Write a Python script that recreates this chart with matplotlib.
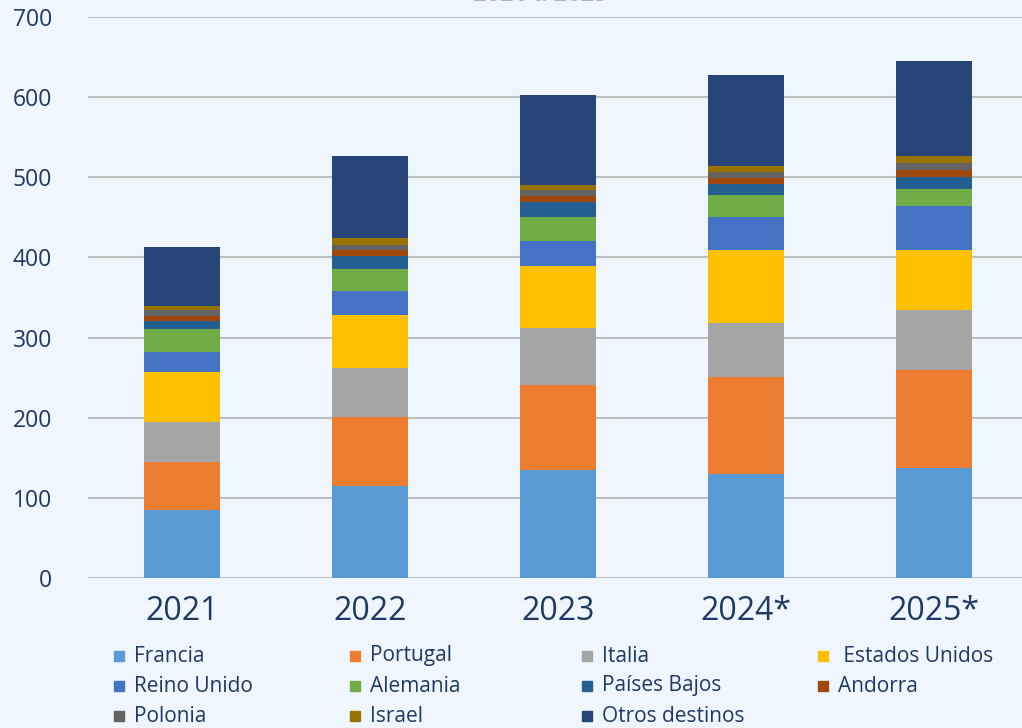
import matplotlib
matplotlib.use('Agg')
import matplotlib.pyplot as plt
from matplotlib.patches import Rectangle
import numpy as np

# ---------------------------------------------------------------------------
# Datos
# ---------------------------------------------------------------------------
anios = ["2021", "2022", "2023", "2024*", "2025*"]

francia = [85, 115, 135, 130, 137]
portugal = [60, 86, 106, 121, 122]
italia = [50, 61, 71, 67, 76]
estados_unidos = [62, 66, 77, 91, 74]
reino_unido = [25, 30, 32, 42, 55]
alemania = [29, 28, 30, 27, 22]
paises_bajos = [10, 16, 18, 13, 14]
andorra = [6, 7, 8, 8, 9]
polonia = [8, 7, 7, 8, 9]
israel = [5, 8, 6, 7, 8]
otros = [73, 102, 113, 114, 119]

series = [
    ("Francia", francia, '#5B9BD5'),
    ("Portugal", portugal, '#ED7D31'),
    ("Italia", italia, '#A5A5A5'),
    (" Estados Unidos", estados_unidos, '#FFC000'),
    ("Reino Unido", reino_unido, '#4472C4'),
    ("Alemania", alemania, '#70AD47'),
    ("Países Bajos", paises_bajos, '#255E91'),
    ("Andorra", andorra, '#9E480E'),
    ("Polonia", polonia, '#636363'),
    ("Israel", israel, '#997300'),
    ("Otros destinos", otros, '#264478'),
]

FONDO = '#EFF6FE'
TEXTO = '#1F3864'

plt.rcParams['font.family'] = ['Open Sans', 'DejaVu Sans']

fig = plt.figure(figsize=(10.22, 7.28), dpi=100, facecolor=FONDO)
ax = fig.add_axes([88 / 1022, 1 - 578 / 728, 940 / 1022, 561 / 728])
ax.set_facecolor(FONDO)

x = np.arange(len(anios))
base = np.zeros(len(anios))
for nombre, valores, color in series:
    ax.bar(x, valores, width=0.4, bottom=base, color=color, label=nombre, zorder=3)
    base += np.array(valores)

ax.set_xlim(-0.5, len(anios) - 0.5)
ax.set_ylim(0, 700)
ax.set_yticks(range(0, 701, 100))
ax.grid(axis='y', color='#BFBFBF', linewidth=1.5, zorder=0)
for s in ax.spines.values():
    s.set_visible(False)
ax.tick_params(axis='y', length=0, pad=26, labelsize=16.5, labelcolor=TEXTO)
ax.tick_params(axis='x', length=0, pad=12, labelsize=23, labelcolor=TEXTO)
ax.set_xticks(x)
ax.set_xticklabels(anios)

# Titulo recortado en la parte superior
fig.text(540 / 1022, 1 - 1 / 728, "2021 a 2025", ha='center', va='baseline',
         fontsize=17, fontweight='bold', color='#A3B4CC')

# Leyenda manual en cuadricula de 4 columnas
col_x = [114, 350, 582, 818]
fila_y = [656, 686, 716]
for i, (nombre, valores, color) in enumerate(series):
    fila, col = divmod(i, 4)
    px, py = col_x[col], fila_y[fila]
    fig.add_artist(Rectangle((px / 1022, 1 - (py + 5) / 728), 10 / 1022, 10 / 728,
                             transform=fig.transFigure, color=color))
    fig.text((px + 20) / 1022, 1 - py / 728, nombre, ha='left', va='center',
             fontsize=15, color=TEXTO)

fig.savefig('out.png', dpi=100, facecolor=FONDO)
